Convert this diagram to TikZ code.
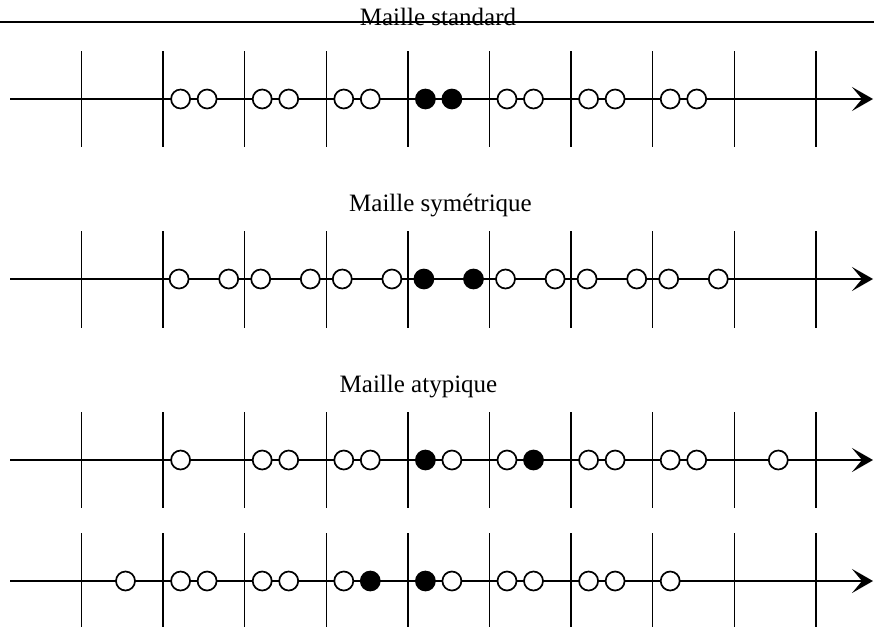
\documentclass[tikz,border=0pt]{standalone}
\usepackage{fontspec}
\setmainfont{Liberation Serif}
\usetikzlibrary{arrows.meta}
\begin{document}
\begin{tikzpicture}[x=1pt,y=-1pt,
  axis/.style={line width=1.8pt,-{Stealth[length=21pt,width=24pt,inset=10pt]}},
  tick/.style={line width=1.4pt},
  rule/.style={line width=1.5pt},
  site/.style={circle,draw,line width=1.7pt,minimum size=19pt,inner sep=0pt,fill=white},
  occ/.style={site,fill=black},
  title/.style={anchor=base,font=\fontsize{25}{30}\selectfont,inner sep=0pt}]
\useasboundingbox (0,0) rectangle (874,627);

% header rule and titles
\coordinate (r0) at (0,22);
\coordinate (r1) at (874,22);
\draw[rule] (r0) -- (r1);
\node[title] (t1) at (438,25) {Maille standard};
\node[title] (t2) at (440.5,211) {Maille symétrique};
\node[title] (t3) at (418.5,392) {Maille atypique};

% axes with cell boundaries
\foreach \r/\y/\b in {1/99/147, 2/279/328, 3/460/508, 4/581/627}{
  \coordinate (s\r) at (10,\y);
  \coordinate (e\r) at (873,\y);
  \draw[axis] (s\r) -- (e\r);
  \foreach \i in {0,...,9}{
    \draw[tick] (81.5+81.6*\i,\y-48) -- (81.5+81.6*\i,\b);
  }
}

% standard cell: two close sites per cell
\foreach \c/\s in {1/site,2/site,3/site,4/occ,5/site,6/site,7/site}{
  \node[\s] (std-\c-a) at (81.5+81.6*\c+17.5,99) {};
  \node[\s] (std-\c-b) at (81.5+81.6*\c+44,99) {};
}

% symmetric cell: sites near both boundaries
\foreach \c/\s in {1/site,2/site,3/site,4/occ,5/site,6/site,7/site}{
  \node[\s] (sym-\c-a) at (81.5+81.6*\c+16,279) {};
  \node[\s] (sym-\c-b) at (81.5+81.6*\c+65.6,279) {};
}

% atypical cell, first row
\foreach [count=\k] \c/\o/\s in {1/17.5/site, 2/17.5/site, 2/44/site, 3/17.5/site, 3/44/site,
    4/17.5/occ, 4/44/site, 5/17.5/site, 5/44/occ, 6/17.5/site, 6/44/site,
    7/17.5/site, 7/44/site, 8/44/site}{
  \node[\s] (atA-\k) at (81.5+81.6*\c+\o,460) {};
}

% atypical cell, second row
\foreach [count=\k] \c/\o/\s in {0/44/site, 1/17.5/site, 1/44/site, 2/17.5/site, 2/44/site,
    3/17.5/site, 3/44/occ, 4/17.5/occ, 4/44/site, 5/17.5/site, 5/44/site,
    6/17.5/site, 6/44/site, 7/17.5/site}{
  \node[\s] (atB-\k) at (81.5+81.6*\c+\o,581) {};
}
\end{tikzpicture}
\end{document}
